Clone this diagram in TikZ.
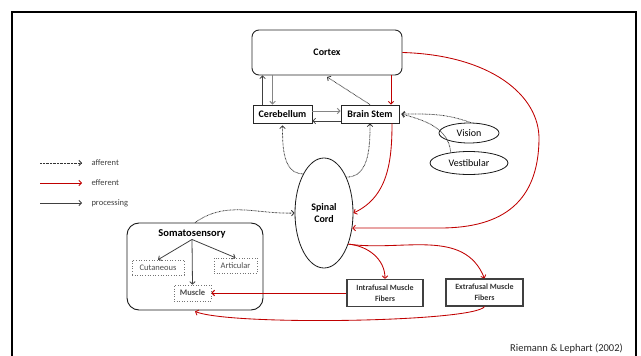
\documentclass[tikz,border=0pt]{standalone}
\usepackage{fontspec}
\setmainfont{Carlito}
\usetikzlibrary{arrows.meta,shapes.geometric,calc}
\definecolor{effred}{HTML}{C00000}
\definecolor{procgray}{HTML}{404040}
\definecolor{lightproc}{HTML}{858585}
\begin{document}
\begin{tikzpicture}[x=1pt,y=-1pt,
  tip/.style={-{Straight Barb[length=2.6pt,width=5.5pt]}},
  aff/.style={tip, dash pattern=on 0.7pt off 0.7pt, line width=0.8pt, draw=black!80},
  eff/.style={tip, draw=effred, line width=0.85pt},
  proc/.style={tip, draw=procgray, line width=0.8pt},
  lproc/.style={tip, draw=lightproc, line width=1pt},
  box/.style={draw=black!85, line width=0.9pt, inner sep=0pt, align=center,
    font=\fontsize{10}{12}\selectfont\bfseries},
  fibbox/.style={draw=black!75, line width=1.1pt, inner sep=0pt, align=center,
    text=black!80, font=\fontsize{8}{11}\selectfont\bfseries},
  oval/.style={ellipse, draw=black!90, line width=0.8pt, inner sep=0pt,
    font=\fontsize{10}{12}\selectfont},
  subbox/.style={draw=black!55, dotted, line width=0.6pt, inner sep=0pt,
    text=black!70, font=\fontsize{8.5}{10}\selectfont},
  legtext/.style={anchor=west, text=black!75, font=\fontsize{8.5}{10}\selectfont}
]
\useasboundingbox (0,0) rectangle (641,356);

% outer frame
\draw[line width=2.6pt] (12,359) -- (12,12) -- (636,12) -- (636,359);

% main nodes
\node[box, rounded corners=7pt, minimum width=150pt, minimum height=45pt] (cortex) at (327,52.5) {Cortex};
\node[box, minimum width=59pt, minimum height=18pt] (cer) at (282.5,114) {Cerebellum};
\node[box, minimum width=58pt, minimum height=18pt] (bs) at (370,114) {Brain Stem};
\node[oval, font=\fontsize{10}{12.5}\selectfont\bfseries, align=center,
      minimum width=58pt, minimum height=110pt] (sc) at (324,213) {Spinal\\Cord};
\node[oval, minimum width=60pt, minimum height=20pt] (vis) at (469,133) {Vision};
\node[oval, minimum width=78pt, minimum height=23pt] (ves) at (469,163) {Vestibular};

% somatosensory group
\node[draw=black!90, line width=0.9pt, rounded corners=12pt, minimum width=136pt,
      minimum height=87pt, inner sep=0pt] (soma) at (195,266.5) {};
\node[font=\fontsize{10.5}{12}\selectfont\bfseries, inner sep=1pt] (somat) at (192,234) {Somatosensory};
\node[subbox, minimum width=52pt, minimum height=15pt] (cut) at (158,267.5) {Cutaneous};
\node[subbox, minimum width=43pt, minimum height=15pt] (art) at (235.5,265.5) {Articular};
\node[subbox, minimum width=37pt, minimum height=16pt, font=\fontsize{8.5}{10}\selectfont\bfseries] (musc) at (192.5,293) {Muscle};

\node[fibbox, minimum width=76pt, minimum height=27pt] (intra) at (385,293) {Intrafusal Muscle\\Fibers};
\node[fibbox, minimum width=77pt, minimum height=27pt] (extra) at (484.5,292.5) {Extrafusal Muscle\\Fibers};

% cortex / cerebellum / brain stem
\draw[proc] ([xshift=10pt]cer.north west) -- ([xshift=10pt]cer.north west |- cortex.south);
\draw[lproc] ([xshift=20pt]cer.north west |- cortex.south) -- ([xshift=20pt]cer.north west);
\draw[aff] (bs.north) -- ([yshift=-1.5pt]cortex.south);
\draw[eff] ([xshift=21pt]bs.north |- cortex.south) -- ([xshift=21pt]bs.north);
\draw[lproc] ([yshift=3pt]cer.east) -- ([yshift=3pt]cer.east -| bs.west);
\draw[proc] ([yshift=-7pt]bs.west) -- ([yshift=-7pt]bs.west -| cer.east);

% spinal cord ascending tracts
\draw[aff] (sc.118) to[out=180,in=-90] ([yshift=-2pt]cer.south);
\draw[aff] (sc.58) to[out=0,in=-90] (bs.south);

% vision / vestibular inputs
\draw[aff] (vis.80) to[out=160,in=0] ([xshift=2pt]bs.east);
\draw[aff] (ves.150) to[out=95,in=-15] ([xshift=2pt]bs.east);

% descending pathways
\draw[eff] ([xshift=22pt]bs.south) to[out=-90,in=25] (sc.east);
\draw[eff] (cortex.east) .. controls (490,55) and (540,95) .. (539,140)
  .. controls (538,200) and (505,228) .. (440,228) -- (sc.-28);
\draw[eff] (sc.-52) to[out=-5,in=90] (intra.north);
\draw[eff] (sc.-52) to[out=-8,in=112] (extra.north);
\draw[eff, line width=1pt] (intra.west) -- (intra.west -| musc.east);
\draw[eff] (extra.south) .. controls (475,322) and (232,326) .. ([yshift=-1pt]soma.south);

% somatosensory afferents
\draw[aff] (soma.north) to[out=35,in=182] (sc.west);
\draw[proc] (somat.south) -- (cut.north);
\draw[proc] (somat.south) -- (art.north);
\draw[proc] (somat.south) -- (musc.north);

% legend
\coordinate (la) at (40,163); \coordinate (lb) at (82,163);
\coordinate (ea) at (40,183); \coordinate (eb) at (82,183);
\coordinate (pa) at (40,203); \coordinate (pb) at (82,203);
\draw[aff] (la) -- (lb);
\draw[eff] (ea) -- (eb);
\draw[proc] (pa) -- (pb);
\node[legtext] (lt) at ([xshift=6pt]lb) {afferent};
\node[legtext] (et) at ([xshift=6pt]eb) {efferent};
\node[legtext] (pt) at ([xshift=6pt]pb) {processing};

% source
\node[font=\fontsize{10.5}{12}\selectfont, text=black!85] (src) at (566.5,349) {Riemann \& Lephart (2002)};
\end{tikzpicture}
\end{document}
